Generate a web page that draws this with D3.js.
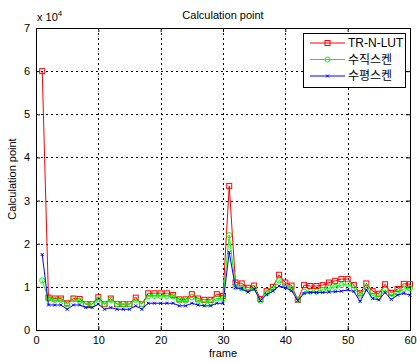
<!DOCTYPE html>
<html>
<head>
<meta charset="utf-8">
<script src="https://cdn.jsdelivr.net/npm/d3@7"></script>
<style>
  body { margin: 0; background: #fff; }
  text { font-family: "Liberation Sans", Arial, sans-serif; }
</style>
</head>
<body>
<div id="chart"></div>
<script>
// data (values in units of 10^4)
let frames = d3.range(1, 61);
let seriesNames = ["TR-N-LUT", "수직스켄", "수평스켄"];
let trnlut = [6.0, 0.75, 0.73, 0.73, 0.62, 0.73, 0.72, 0.6, 0.6, 0.76, 0.6, 0.73, 0.6, 0.6, 0.6, 0.75, 0.6, 0.85, 0.85, 0.85, 0.85, 0.81, 0.71, 0.71, 0.83, 0.73, 0.7, 0.7, 0.83, 0.79, 3.34, 1.1, 1.08, 0.98, 1.03, 0.72, 0.9, 1.0, 1.28, 1.1, 1.03, 0.7, 1.04, 1.02, 1.02, 1.04, 1.1, 1.14, 1.18, 1.18, 1.04, 0.85, 1.08, 0.9, 0.84, 1.06, 0.86, 0.95, 1.07, 1.06];
let vertical = [1.15, 0.72, 0.7, 0.7, 0.6, 0.71, 0.68, 0.6, 0.6, 0.71, 0.6, 0.7, 0.6, 0.6, 0.6, 0.7, 0.6, 0.79, 0.79, 0.79, 0.79, 0.78, 0.68, 0.68, 0.76, 0.68, 0.65, 0.65, 0.73, 0.73, 2.2, 1.0, 0.97, 0.93, 0.97, 0.68, 0.85, 0.95, 1.15, 1.02, 0.95, 0.7, 0.89, 0.89, 0.89, 0.93, 0.97, 1.0, 1.04, 1.07, 0.97, 0.8, 1.0, 0.8, 0.76, 0.93, 0.77, 0.86, 0.95, 0.97];
let horizontal = [1.75, 0.58, 0.58, 0.58, 0.48, 0.58, 0.58, 0.52, 0.52, 0.6, 0.48, 0.52, 0.48, 0.48, 0.48, 0.56, 0.48, 0.62, 0.62, 0.62, 0.62, 0.62, 0.56, 0.56, 0.62, 0.58, 0.56, 0.56, 0.62, 0.62, 1.8, 0.98, 0.95, 0.88, 0.95, 0.68, 0.82, 0.9, 1.02, 0.98, 0.91, 0.68, 0.85, 0.87, 0.87, 0.87, 0.88, 0.89, 0.9, 0.93, 0.89, 0.66, 0.93, 0.73, 0.7, 0.87, 0.71, 0.81, 0.85, 0.81];
let xTicks = [0, 10, 20, 30, 40, 50, 60];
let yTicks = [0, 1, 2, 3, 4, 5, 6, 7];

let width = 417, height = 361;
let margin = ({top: 28, right: 7, bottom: 31, left: 36});

let x = d3.scaleLinear().domain([0, 60]).range([margin.left, width - margin.right]);
let y = d3.scaleLinear().domain([0, 7]).range([height - margin.bottom, margin.top]);

const svg = d3.select("#chart").append("svg")
  .attr("width", width)
  .attr("height", height);

// grid
let grid = svg.append("g")
  .attr("stroke", "#000")
  .attr("stroke-width", 1)
  .attr("stroke-dasharray", "2,3");
grid.selectAll(".gx").data(xTicks.slice(1, -1)).join("line")
  .attr("x1", d => Math.round(x(d)) + 0.5).attr("x2", d => Math.round(x(d)) + 0.5)
  .attr("y1", y(7)).attr("y2", y(0));
grid.selectAll(".gy").data(yTicks.slice(1, -1)).join("line")
  .attr("y1", d => Math.round(y(d)) + 0.5).attr("y2", d => Math.round(y(d)) + 0.5)
  .attr("x1", x(0)).attr("x2", x(60));

// axes with inward ticks
svg.append("g")
  .attr("transform", `translate(0,${y(0)})`)
  .call(d3.axisBottom(x).tickValues(xTicks).tickSize(-4).tickPadding(6).tickFormat(d3.format("d")))
  .call(g => g.selectAll("text").attr("font-size", 11).attr("fill", "#000"));
svg.append("g")
  .attr("transform", `translate(0,${y(7)})`)
  .call(d3.axisTop(x).tickValues(xTicks).tickSize(-4).tickFormat(""));
svg.append("g")
  .attr("transform", `translate(${x(0)},0)`)
  .call(d3.axisLeft(y).tickValues(yTicks).tickSize(-4).tickPadding(6).tickFormat(d3.format("d")))
  .call(g => g.selectAll("text").attr("font-size", 11).attr("fill", "#000"));
svg.append("g")
  .attr("transform", `translate(${x(60)},0)`)
  .call(d3.axisRight(y).tickValues(yTicks).tickSize(-4).tickFormat(""));

// series
let all = [
  {name: seriesNames[0], values: trnlut, color: "#ff0000", marker: "square"},
  {name: seriesNames[1], values: vertical, color: "#00ff00", marker: "circle"},
  {name: seriesNames[2], values: horizontal, color: "#0000ff", marker: "x"}
];

let line = d3.line()
  .x((d, i) => x(frames[i]))
  .y(d => y(d));

function drawMarker(g, type, color) {
  if (type === "square") {
    g.append("rect").attr("x", -2.5).attr("y", -2.5).attr("width", 5).attr("height", 5)
      .attr("fill", "none").attr("stroke", color);
  } else if (type === "circle") {
    g.append("circle").attr("r", 2.6).attr("fill", "none").attr("stroke", color);
  } else {
    g.append("path").attr("d", "M-1.5,-1.5L1.5,1.5M-1.5,1.5L1.5,-1.5")
      .attr("stroke", color).attr("fill", "none");
  }
}

all.forEach(function(s) {
  svg.append("path")
    .datum(s.values)
    .attr("fill", "none")
    .attr("stroke", s.color)
    .attr("stroke-width", 1)
    .attr("d", line);
  svg.append("g").selectAll("g")
    .data(s.values)
    .join("g")
      .attr("transform", (d, i) => `translate(${x(frames[i])},${y(d)})`)
      .each(function() { drawMarker(d3.select(this), s.marker, s.color); });
});

// exponent label
let exp = svg.append("text").attr("x", 37).attr("y", 21).attr("font-size", 11);
exp.append("tspan").text("x 10");
exp.append("tspan").attr("dy", -5).attr("font-size", 8).text("4");

// title and axis labels
svg.append("text")
  .attr("x", (x(0) + x(60)) / 2).attr("y", 19)
  .attr("text-anchor", "middle").attr("font-size", 11)
  .text("Calculation point");
svg.append("text")
  .attr("x", (x(0) + x(60)) / 2).attr("y", 357)
  .attr("text-anchor", "middle").attr("font-size", 11)
  .text("frame");
svg.append("text")
  .attr("transform", `translate(16,${(y(0) + y(7)) / 2}) rotate(-90)`)
  .attr("text-anchor", "middle").attr("font-size", 11)
  .text("Calculation point");

// legend
let legend = svg.append("g");
legend.append("rect")
  .attr("x", 303.5).attr("y", 33.5).attr("width", 102).attr("height", 54)
  .attr("fill", "#fff").attr("stroke", "#000");
all.forEach(function(s, i) {
  let ly = 43 + i * 16.5;
  legend.append("line")
    .attr("x1", 310).attr("x2", 345).attr("y1", ly).attr("y2", ly)
    .attr("stroke", s.color);
  drawMarker(legend.append("g").attr("transform", `translate(327.5,${ly})`), s.marker, s.color);
  legend.append("text")
    .attr("x", 348).attr("y", ly + 4)
    .attr("font-size", 12)
    .style("font-family", i === 0 ? "'Liberation Sans', Arial, sans-serif" : "'Noto Sans CJK KR', sans-serif")
    .text(s.name);
});
</script>
</body>
</html>
